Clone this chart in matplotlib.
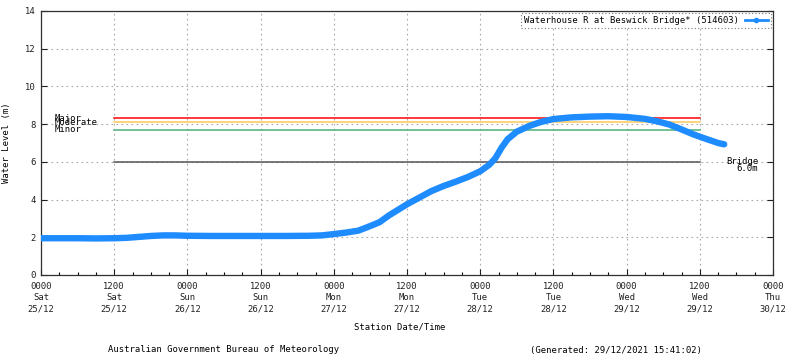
import matplotlib
matplotlib.use("Agg")
import matplotlib.pyplot as plt
from matplotlib.lines import Line2D
from matplotlib.ticker import MultipleLocator

# hours since 0000 Sat 25/12 and water level (m)
hours = [0, 3, 6, 9, 12, 14, 16, 18, 20, 22, 24, 28, 32, 36, 40, 44, 46, 48,
         50, 52, 54, 55.5, 57, 58.5, 60, 62, 64, 66, 68, 70, 72, 73.5, 74.5,
         75.5, 76.5, 78, 80, 82, 84, 87, 90, 93, 96, 99, 101, 103, 105, 107,
         109, 111, 112]
level = [1.95, 1.95, 1.95, 1.94, 1.95, 1.97, 2.02, 2.07, 2.1, 2.1, 2.08, 2.07,
         2.07, 2.07, 2.07, 2.08, 2.1, 2.17, 2.25, 2.35, 2.6, 2.8, 3.15, 3.45,
         3.75, 4.1, 4.45, 4.72, 4.95, 5.2, 5.5, 5.85, 6.2, 6.75, 7.2, 7.6, 7.9,
         8.12, 8.27, 8.36, 8.4, 8.42, 8.38, 8.28, 8.15, 7.98, 7.72, 7.45, 7.22,
         7.0, 6.93]

# flood classes
class_names = ["Major", "Moderate", "Minor"]
class_levels = [8.3, 8.1, 7.7]
class_colors = ["#ff0000", "#ffc858", "#4caf78"]
bridge_level = 6.0
line_start, line_end = 12, 108

tick_hours = list(range(0, 121, 12))
tick_times = ["0000", "1200"] * 5 + ["0000"]
tick_days = ["Sat", "Sat", "Sun", "Sun", "Mon", "Mon", "Tue", "Tue", "Wed", "Wed", "Thu"]
tick_dates = ["25/12", "25/12", "26/12", "26/12", "27/12", "27/12", "28/12",
              "28/12", "29/12", "29/12", "30/12"]

font = "DejaVu Sans Mono"
fs = 6.4
plt.rcParams["font.family"] = font
plt.rcParams["font.size"] = fs

fig = plt.figure(figsize=(8, 3.58), dpi=100)
ax = fig.add_axes([41 / 800, 1 - 275 / 358, 732 / 800, 264 / 358])
ax.set_xlim(0, 120)
ax.set_ylim(0, 14)

ax.yaxis.set_major_locator(MultipleLocator(2))
ax.set_xticks(tick_hours)
ax.set_xticklabels([f"{t}\n{d}\n{dt}" for t, d, dt in zip(tick_times, tick_days, tick_dates)],
                   linespacing=1.35)
ax.xaxis.set_minor_locator(MultipleLocator(3))
ax.tick_params(axis="both", which="major", direction="in", length=4, width=0.8,
               colors="#202020", labelsize=fs)
ax.tick_params(axis="x", which="minor", direction="in", length=2.5, width=0.8)
ax.tick_params(axis="y", right=True, pad=4)
ax.tick_params(axis="x", pad=5)

ax.grid(True, which="major", color="#a8a8a8", linestyle=(0, (1.5, 3)), linewidth=0.8)
ax.set_axisbelow(True)
for s in ax.spines.values():
    s.set_color("#303030")
    s.set_linewidth(0.9)

# threshold lines
for name, lv, c in zip(class_names, class_levels, class_colors):
    ax.plot([line_start, line_end], [lv, lv], color=c, lw=1.1, zorder=2)
    ax.text(2.3, lv, name, ha="left", va="center", fontsize=fs, zorder=4)
ax.plot([line_start, line_end], [bridge_level, bridge_level], color="#555555", lw=1.1, zorder=2)
ax.text(117.6, bridge_level, "Bridge", ha="right", va="center", fontsize=fs)
ax.text(117.6, bridge_level - 0.36, "6.0m", ha="right", va="center", fontsize=fs)

ax.plot(hours, level, color="#1e8cff", lw=4.6, solid_capstyle="round",
        solid_joinstyle="round", zorder=3)

handle = Line2D([], [], color="#1e8cff", lw=2, marker="o", ms=3)
leg = ax.legend([handle], ["Waterhouse R at Beswick Bridge* (514603)"], loc="upper right",
                markerfirst=False, numpoints=1, handlelength=2.6, fontsize=fs,
                fancybox=False, framealpha=1, borderpad=0.35, borderaxespad=0.25,
                handletextpad=0.6)
leg.get_frame().set_linestyle((0, (1, 2)))
leg.get_frame().set_edgecolor("#777777")
leg.get_frame().set_linewidth(0.8)

ax.set_ylabel("Water Level (m)", fontsize=fs, labelpad=10)
fig.text(400 / 800, 1 - 327 / 358, "Station Date/Time", ha="center", va="center", fontsize=fs)
fig.text(224 / 800, 1 - 350 / 358, "Australian Government Bureau of Meteorology",
         ha="center", va="center", fontsize=fs)
fig.text(616 / 800, 1 - 350 / 358, "(Generated: 29/12/2021 15:41:02)",
         ha="center", va="center", fontsize=fs)

fig.savefig("out.png", dpi=100, facecolor="white")
